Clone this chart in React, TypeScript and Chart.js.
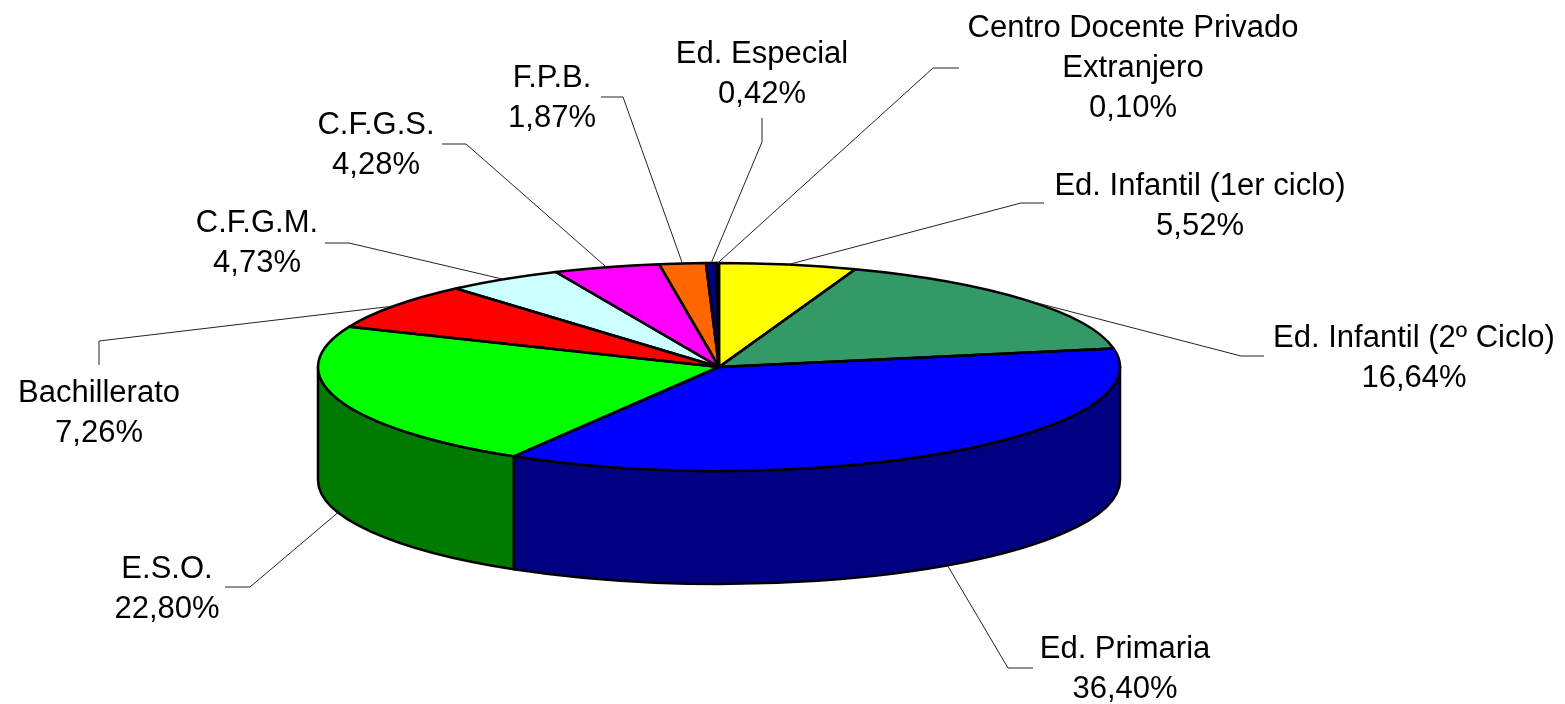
import React, { useEffect, useRef } from "react";
import { Chart, registerables } from "chart.js";

Chart.register(...registerables);

// ---------- data ----------
const categories = [
  "Ed. Infantil (1er ciclo)",
  "Ed. Infantil (2º Ciclo)",
  "Ed. Primaria",
  "E.S.O.",
  "Bachillerato",
  "C.F.G.M.",
  "C.F.G.S.",
  "F.P.B.",
  "Ed. Especial",
  "Centro Docente Privado\nExtranjero",
];
const percentages = [5.52, 16.64, 36.4, 22.8, 7.26, 4.73, 4.28, 1.87, 0.42, 0.1];

// ---------- styles ----------
const topColors = [
  "#FFFF00", "#339966", "#0000FF", "#00FF00", "#FF0000",
  "#CCFFFF", "#FF00FF", "#FF6600", "#000080", "#000080",
];
const sideColors = [
  "#808000", "#1A4D33", "#000080", "#007A00", "#800000",
  "#668080", "#800080", "#803300", "#000040", "#000040",
];

// ---------- layout ----------
const PIE = { cx: 719, cy: 367, rx: 401, ry: 104, depth: 113 };
const OUTLINE_W = 2.5;
const FONT = '31px "Liberation Sans", Arial, sans-serif';
const LINE_H = 40;
const LABEL_LAYOUT = [
  { x: 1200, y: 195, elbow: [1021, 203], end: [1044, 203] },
  { x: 1414, y: 347, elbow: [1241, 356], end: [1264, 356] },
  { x: 1125, y: 658, elbow: [1008, 668], end: [1033, 668] },
  { x: 167, y: 578, elbow: [250, 587], end: [225, 587] },
  { x: 99, y: 402, elbow: [99, 341], end: [99, 365] },
  { x: 257, y: 232, elbow: [349, 243], end: [325, 243] },
  { x: 376, y: 134, elbow: [466, 144], end: [442, 144] },
  { x: 552, y: 87, elbow: [623, 97], end: [601, 97] },
  { x: 762, y: 63, elbow: [762, 142], end: [762, 118] },
  { x: 1133, y: 37, elbow: [933, 68], end: [959, 68] },
];

const fmt = (v: number) => v.toFixed(2).replace(".", ",") + "%";

const pie3d = {
  id: "pie3d",
  beforeDatasetsDraw(chart: any) {
    const ctx: CanvasRenderingContext2D = chart.ctx;
    const arcs = chart.getDatasetMeta(0).data;
    const { cx, cy, rx, ry, depth } = PIE;
    // side walls (front half only)
    arcs.forEach((arc: any, i: number) => {
      const { startAngle, endAngle } = arc.getProps(["startAngle", "endAngle"], true);
      const a = Math.max(startAngle, 0);
      const b = Math.min(endAngle, Math.PI);
      if (b <= a) return;
      ctx.beginPath();
      ctx.ellipse(cx, cy, rx, ry, 0, a, b);
      ctx.ellipse(cx, cy + depth, rx, ry, 0, b, a, true);
      ctx.closePath();
      ctx.fillStyle = sideColors[i];
      ctx.fill();
      ctx.lineWidth = OUTLINE_W;
      ctx.lineJoin = "round";
      ctx.strokeStyle = "#000";
      ctx.stroke();
    });
    // squash the library's pie into the top ellipse
    const { x, y, outerRadius } = arcs[0].getProps(["x", "y", "outerRadius"], true);
    ctx.save();
    ctx.translate(cx, cy);
    ctx.scale(rx / outerRadius, ry / outerRadius);
    ctx.translate(-x, -y);
  },
  afterDatasetsDraw(chart: any) {
    const ctx: CanvasRenderingContext2D = chart.ctx;
    ctx.restore();
    const arcs = chart.getDatasetMeta(0).data;
    const { cx, cy, rx, ry } = PIE;
    ctx.save();
    ctx.lineWidth = OUTLINE_W;
    ctx.lineJoin = "round";
    ctx.strokeStyle = "#000";
    arcs.forEach((arc: any) => {
      const { startAngle, endAngle } = arc.getProps(["startAngle", "endAngle"], true);
      ctx.beginPath();
      ctx.moveTo(cx, cy);
      ctx.ellipse(cx, cy, rx, ry, 0, startAngle, endAngle);
      ctx.closePath();
      ctx.stroke();
    });
    ctx.restore();
  },
  afterDraw(chart: any) {
    const ctx: CanvasRenderingContext2D = chart.ctx;
    const arcs = chart.getDatasetMeta(0).data;
    const { cx, cy, rx, ry, depth } = PIE;
    ctx.save();
    arcs.forEach((arc: any, i: number) => {
      const L = LABEL_LAYOUT[i];
      const { startAngle, endAngle } = arc.getProps(["startAngle", "endAngle"], true);
      const m = (startAngle + endAngle) / 2;
      const s = Math.sin(m);
      const px = cx + rx * Math.cos(m);
      const py = cy + ry * s + (s > 0 ? depth : 0);
      ctx.beginPath();
      ctx.moveTo(px, py);
      ctx.lineTo(L.elbow[0], L.elbow[1]);
      ctx.lineTo(L.end[0], L.end[1]);
      ctx.lineWidth = 1;
      ctx.strokeStyle = "#222";
      ctx.stroke();

      const lines = [...chart.data.labels[i].split("\n"), fmt(chart.data.datasets[0].data[i])];
      ctx.font = FONT;
      ctx.fillStyle = "#000";
      ctx.textAlign = "center";
      ctx.textBaseline = "alphabetic";
      lines.forEach((t: string, k: number) => ctx.fillText(t, L.x, L.y + k * LINE_H));
    });
    ctx.restore();
  },
};

export default function App() {
  const ref = useRef<HTMLCanvasElement>(null);
  useEffect(() => {
    const chart = new Chart(ref.current as HTMLCanvasElement, {
      type: "pie",
      data: {
        labels: categories,
        datasets: [
          {
            data: percentages,
            backgroundColor: topColors,
            borderWidth: 0,
            clip: false as any,
          },
        ],
      },
      options: {
        responsive: false,
        animation: false,
        events: [],
        plugins: { legend: { display: false }, tooltip: { enabled: false } },
      },
      plugins: [pie3d as any],
    });
    return () => chart.destroy();
  }, []);
  return (
    <div style={{ position: "absolute", left: 0, top: 0, width: 1565, height: 704, background: "#fff" }}>
      <canvas ref={ref} width={1565} height={704} style={{ display: "block" }} />
    </div>
  );
}
